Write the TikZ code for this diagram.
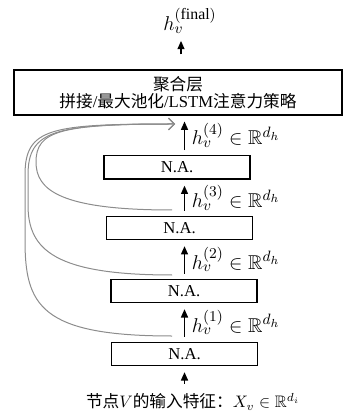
\documentclass[tikz,border=0pt]{standalone}
\usepackage{amsmath}
\usepackage{amssymb}
\usepackage{fontspec}
\setmainfont{Liberation Serif}
\newfontfamily\cjk{Noto Sans CJK SC}
\DeclareMathSizes{12}{12}{9.5}{7}
\usetikzlibrary{arrows.meta}

\begin{document}
\begin{tikzpicture}[x=0.6pt,y=-0.6pt]
		\tikzstyle{nabox}=[draw=black,line width=0.8pt,minimum width=87.5pt,minimum height=14pt,inner sep=0]
		\tikzstyle{aggbox}=[draw=black,line width=0.8pt,minimum width=196.8pt,minimum height=27pt,inner sep=0,align=center,font=\fontsize{10}{10}\selectfont]
		\tikzstyle{arr}=[-{Triangle[length=5pt,width=4.2pt]},line width=0.8pt,shorten <=3pt,shorten >=3.5pt]
		\tikzstyle{skip}=[-{Straight Barb[length=3.5pt,width=7pt]},draw=black!45,line width=0.6pt]
		\tikzstyle{hlab}=[right=3pt,inner sep=1pt,font=\large]
		\useasboundingbox (0,0) rectangle (343,414);

		\node[aggbox] (agg) at (178,92.5) {{\cjk 聚合层}\\{\cjk 拼接}/{\cjk 最大池化}/LSTM{\cjk 注意力策略}};
		\foreach \i/\x/\y in {1/184.5/354, 2/184/291, 3/179.5/228, 4/177/167.5}
			\node[nabox] (na\i) at (\x,\y) {N.A.};
		\node[font=\large] (hf) at (190,21) {$h_v^{(\mathrm{final})}$};
		\node (inp) at (193,402) {{\cjk 节点}$V${\cjk 的输入特征：}$X_v \in \mathbb{R}^{d_i}$};

		\draw[arr,shorten <=2.5pt] (inp.north -| na1) -- (na1.south);
		\foreach \i/\j in {1/2,2/3,3/4}
			\draw[arr] (na\i.north -| na1) -- (na\j.south -| na1) node[midway,hlab] (h\i) {$h_v^{(\i)} \in \mathbb{R}^{d_h}$};
		\draw[arr] (na4.north -| na1) -- (agg.south -| na1) node[midway,hlab] (h4) {$h_v^{(4)} \in \mathbb{R}^{d_h}$};
		\draw[arr,shorten <=9pt,shorten >=1pt] ([xshift=1.8pt]agg.north) -- ([xshift=1.8pt]agg.north |- hf.south);

		% skip connections to the aggregation layer
		\coordinate (s1) at (172,336);
		\coordinate (s2) at (172,275);
		\coordinate (s3) at (172,210);
		\coordinate (top) at (175,124);
		\draw[skip] (s1) .. controls (40,336) and (25,305) .. (25,240) -- (25,175) .. controls (25,128) and (50,124) .. (top);
		\draw[skip] (s2) .. controls (55,275) and (28,250) .. (28,205) -- (28,175) .. controls (28,130) and (55,124) .. (top);
		\draw[skip] (s3) .. controls (60,210) and (36,190) .. (36,162) .. controls (36,131) and (60,124) .. (top);
\end{tikzpicture}
\end{document}
